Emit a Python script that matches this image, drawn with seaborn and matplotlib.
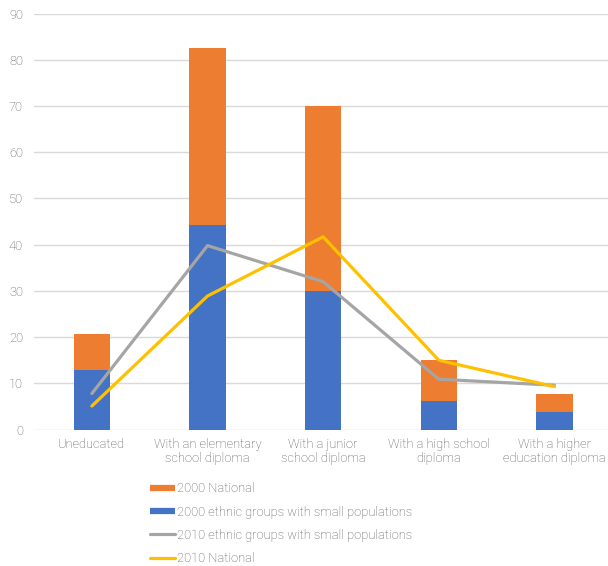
import matplotlib
matplotlib.use("Agg")
import matplotlib.pyplot as plt
from matplotlib.lines import Line2D
import seaborn as sns
import pandas as pd
import numpy as np

# categories and values
categories = [
    "Uneducated",
    "With an elementary\nschool diploma",
    "With a junior\nschool diploma",
    "With a high school\ndiploma",
    "With a higher\neducation diploma",
]
ethnic_2000 = [13.0, 44.2, 30.0, 6.2, 3.9]      # blue, lower segment
national_2000 = [7.7, 38.3, 40.0, 8.8, 3.8]     # orange, upper segment
ethnic_2010 = [7.8, 39.8, 32.0, 10.9, 9.6]      # gray line
national_2010 = [5.1, 28.9, 41.7, 15.0, 9.3]    # yellow line

ORANGE = "#ED7D31"
BLUE = "#4472C4"
GRAY = "#A5A5A5"
YELLOW = "#FFC000"
TEXT = "#595959"

sns.set_style("white")
plt.rcParams["font.family"] = ["Roboto", "DejaVu Sans"]
plt.rcParams["font.weight"] = "light"

df = pd.DataFrame({
    "category": categories,
    "ethnic_2000": ethnic_2000,
    "national_2000": national_2000,
    "ethnic_2010": ethnic_2010,
    "national_2010": national_2010,
})
df["total_2000"] = df["ethnic_2000"] + df["national_2000"]

fig = plt.figure(figsize=(6.08, 5.66), dpi=100)
ax = fig.add_axes([0.056, 0.241, 0.951, 0.735])

# stacked bars: orange total drawn first, blue over its lower part
sns.barplot(data=df, x="category", y="total_2000", color=ORANGE, width=0.314,
            saturation=1, linewidth=0, ax=ax, zorder=2)
sns.barplot(data=df, x="category", y="ethnic_2000", color=BLUE, width=0.314,
            saturation=1, linewidth=0, ax=ax, zorder=3)

sns.lineplot(data=df, x="category", y="ethnic_2010", color=GRAY, lw=2.3,
             ax=ax, zorder=4, sort=False)
sns.lineplot(data=df, x="category", y="national_2010", color=YELLOW, lw=2.3,
             ax=ax, zorder=5, sort=False)

ax.set_ylim(0, 90)
ax.set_xlim(-0.5, 4.5)
ax.set_yticks(np.arange(0, 91, 10))
ax.yaxis.grid(True, color="#D9D9D9", lw=1)
ax.set_axisbelow(True)
for s in ax.spines.values():
    s.set_visible(False)
ax.set_xlabel("")
ax.set_ylabel("")
ax.tick_params(axis="both", length=0, labelsize=9.3, labelcolor=TEXT)
ax.tick_params(axis="y", pad=8)
ax.tick_params(axis="x", pad=6)
for lbl in ax.get_xticklabels():
    lbl.set_linespacing(1.12)

handles = [
    Line2D([], [], color=ORANGE, lw=4.5, solid_capstyle="butt"),
    Line2D([], [], color=BLUE, lw=4.5, solid_capstyle="butt"),
    Line2D([], [], color=GRAY, lw=2.3),
    Line2D([], [], color=YELLOW, lw=2.3),
]
labels = [
    "2000 National",
    "2000 ethnic groups with small populations",
    "2010 ethnic groups with small populations",
    "2010 National",
]
fig.legend(handles, labels, loc="upper left", bbox_to_anchor=(0.247, 0.148),
           frameon=False, fontsize=9.3, labelcolor=TEXT, handlelength=1.95,
           handletextpad=0.15, labelspacing=0.8, borderaxespad=0, borderpad=0)

fig.savefig("out.png", dpi=100)
